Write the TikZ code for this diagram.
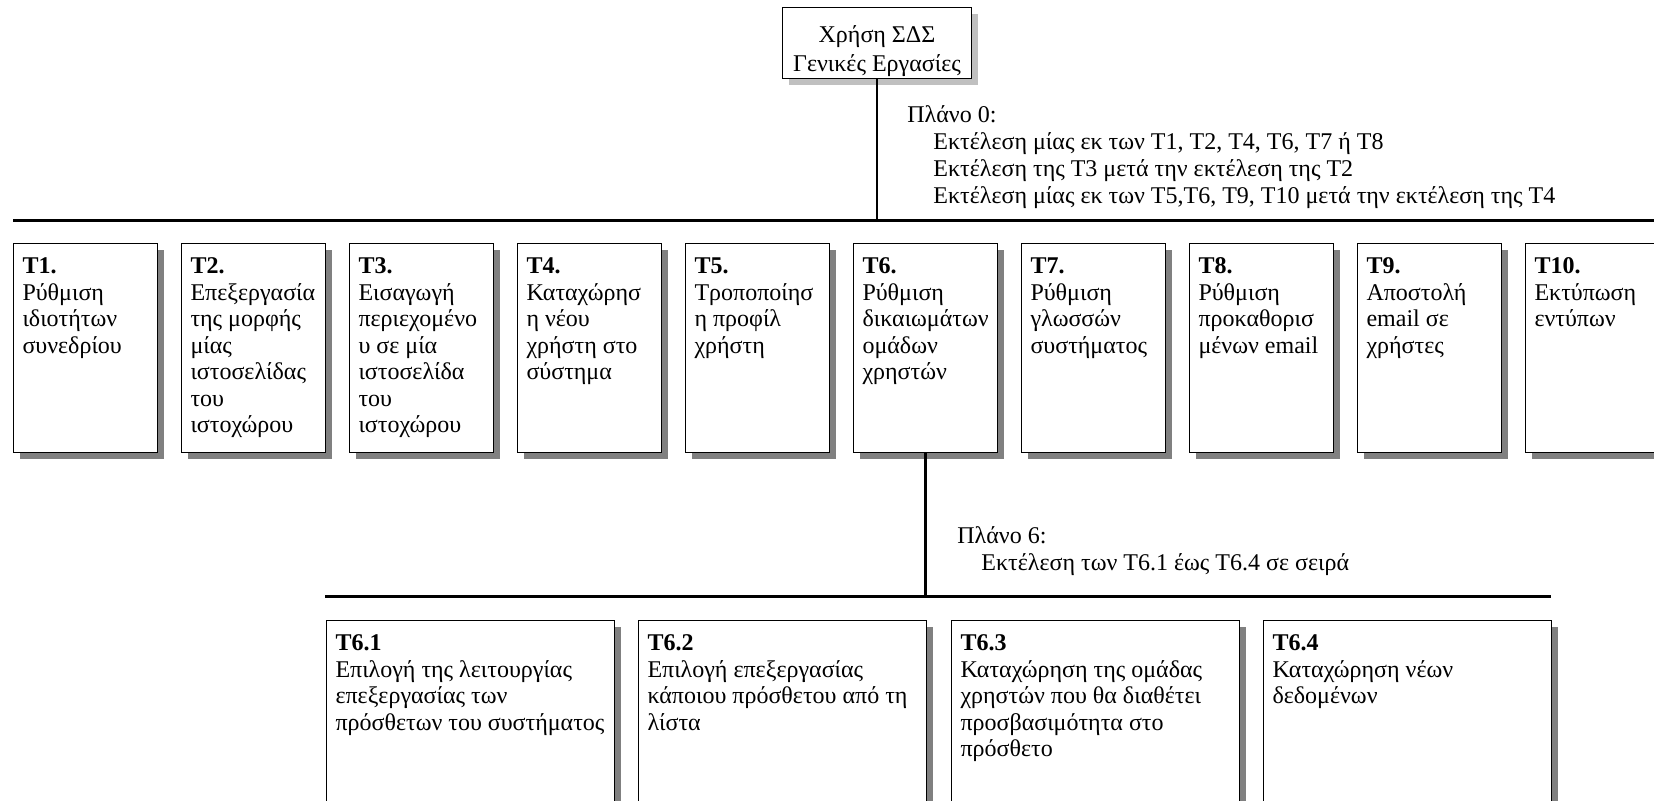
\documentclass[tikz,border=0pt]{standalone}
\usepackage{fontspec}
\setmainfont{Liberation Serif}
\usetikzlibrary{shadows}

\definecolor{shadowgray}{RGB}{128,128,128}
\definecolor{lightshadow}{RGB}{192,192,192}

\newcommand{\taskcell}[2]{\parbox[t][93pt][t]{63pt}{\raggedright\strut\textbf{#1}\\#2}}
\newcommand{\subcell}[2]{\parbox[t][120pt][t]{135pt}{\raggedright\strut\textbf{#1}\\#2}}

\begin{document}
\begin{tikzpicture}[x=0.5pt, y=-0.5pt,
    every node/.style={font=\fontsize{12}{13.25}\selectfont},
    task/.style={draw, line width=0.5pt, fill=white, anchor=north west,
        inner xsep=4.5pt, inner ysep=5.75pt,
        drop shadow={shadow xshift=3pt, shadow yshift=-3pt, fill=shadowgray, opacity=1}},
    goal/.style={draw, line width=0.5pt, fill=white, align=center, anchor=north,
        minimum width=94.5pt, minimum height=35.5pt, inner ysep=0pt,
        font=\fontsize{12}{14.75}\selectfont,
        drop shadow={shadow xshift=3pt, shadow yshift=-3pt, fill=lightshadow, opacity=1}},
    plan/.style={anchor=base west, align=left, inner sep=0pt,
        font=\fontsize{12}{13.4}\selectfont},
    bus/.style={line width=1.5pt},
    stem/.style={line width=1.2pt}]
    \useasboundingbox (0,0) rectangle (1654,800);
    \clip (0,0) rectangle (1654,800);

    \node [goal] (uses) at (877,7) {\rule{0pt}{17.25pt}Χρήση ΣΔΣ\\Γενικές Εργασίες\rule[-3.5pt]{0pt}{0pt}};

    \coordinate (bus0w) at (13,220);
    \coordinate (bus0e) at (1654,220);
    \draw [bus] (bus0w) -- (bus0e);
    \draw [stem] (uses.south) -- (uses.south |- bus0w);

    \node [plan] (plan0) at (907,203) {Πλάνο 0:\\
        \hspace*{13pt}Εκτέλεση μίας εκ των T1, T2, T4, T6, T7 ή T8\\
        \hspace*{13pt}Εκτέλεση της T3 μετά την εκτέλεση της T2\\
        \hspace*{13pt}Εκτέλεση μίας εκ των T5,T6, T9, T10 μετά την εκτέλεση της T4};

    \node [task] (t1)  at (13,243)   {\taskcell{T1.}{Ρύθμιση\\ιδιοτήτων\\συνεδρίου}};
    \node [task] (t2)  at (181,243)  {\taskcell{T2.}{Επεξεργασία\\της μορφής\\μίας\\ιστοσελίδας\\του\\ιστοχώρου}};
    \node [task] (t3)  at (349,243)  {\taskcell{T3.}{Εισαγωγή\\περιεχομένο\\υ σε μία\\ιστοσελίδα\\του\\ιστοχώρου}};
    \node [task] (t4)  at (517,243)  {\taskcell{T4.}{Καταχώρησ\\η νέου\\χρήστη στο\\σύστημα}};
    \node [task] (t5)  at (685,243)  {\taskcell{T5.}{Τροποποίησ\\η προφίλ\\χρήστη}};
    \node [task] (t6)  at (853,243)  {\taskcell{T6.}{Ρύθμιση\\δικαιωμάτων\\ομάδων\\χρηστών}};
    \node [task] (t7)  at (1021,243) {\taskcell{T7.}{Ρύθμιση\\γλωσσών\\συστήματος}};
    \node [task] (t8)  at (1189,243) {\taskcell{T8.}{Ρύθμιση\\προκαθορισ\\μένων email}};
    \node [task] (t9)  at (1357,243) {\taskcell{T9.}{Αποστολή\\email σε\\χρήστες}};
    \node [task] (t10) at (1525,243) {\taskcell{T10.}{Εκτύπωση\\εντύπων}};

    \coordinate (bus6w) at (325,596);
    \coordinate (bus6e) at (1551,596);
    \draw [bus] (bus6w) -- (bus6e);
    \draw [stem] (t6.south) -- (t6.south |- bus6w);

    \node [plan] (plan6) at (957,570) {Πλάνο 6:\\
        \hspace*{12pt}Εκτέλεση των T6.1 έως T6.4 σε σειρά};

    \node [task] (t61) at (326,620)  {\subcell{T6.1}{Επιλογή της λειτουργίας\\επεξεργασίας των\\πρόσθετων του συστήματος}};
    \node [task] (t62) at (638,620)  {\subcell{T6.2}{Επιλογή επεξεργασίας\\κάποιου πρόσθετου από τη\\λίστα}};
    \node [task] (t63) at (951,620)  {\subcell{T6.3}{Καταχώρηση της ομάδας\\χρηστών που θα διαθέτει\\προσβασιμότητα στο\\πρόσθετο}};
    \node [task] (t64) at (1263,620) {\subcell{T6.4}{Καταχώρηση νέων\\δεδομένων}};
\end{tikzpicture}
\end{document}
